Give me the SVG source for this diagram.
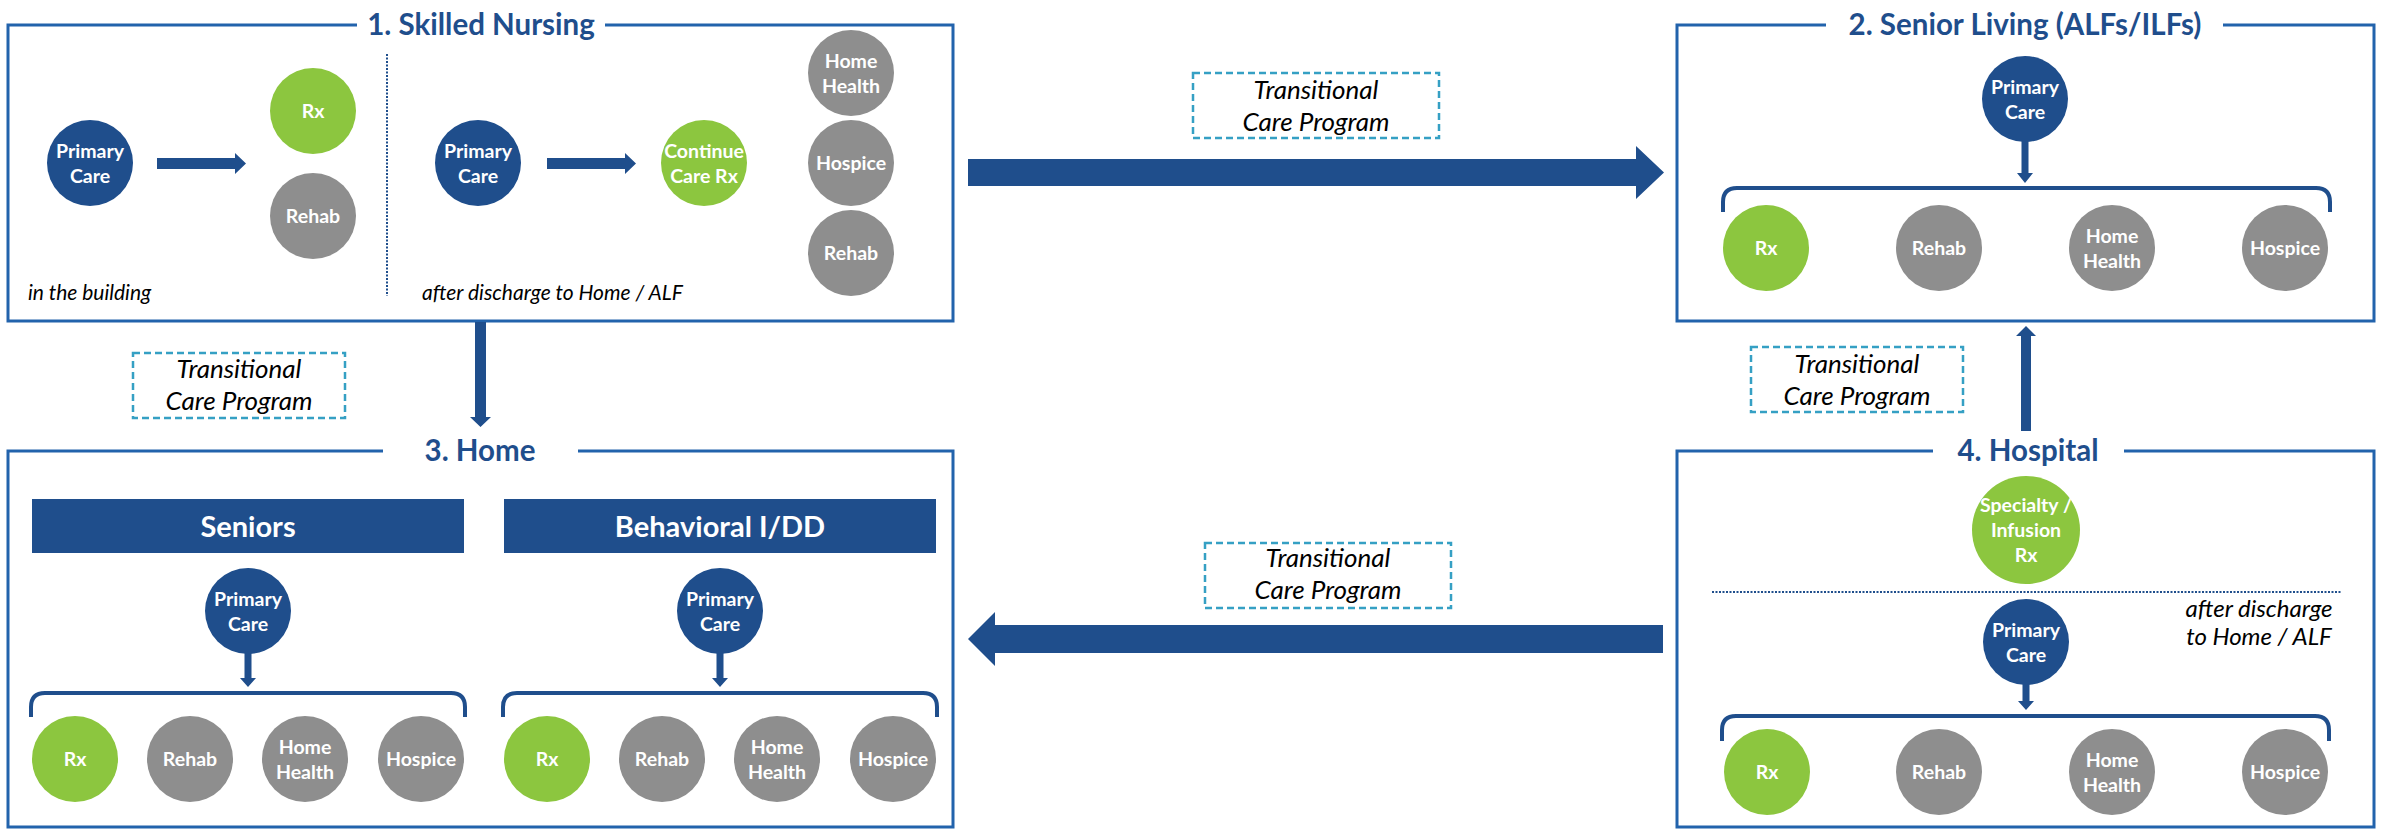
<svg xmlns="http://www.w3.org/2000/svg" width="2381" height="829" viewBox="0 0 2381 829">
  <style>
    .frame { fill: none; stroke: #2263AC; stroke-width: 3; }
    .title { font-family: Lato, "Liberation Sans", sans-serif; font-weight: 700; font-size: 29.5px; fill: #1F4E8C; text-anchor: middle; }
    .navy { fill: #1F4E8C; }
    .green { fill: #8CC63F; }
    .gray { fill: #8E8E8E; }
    .lbl { font-family: Lato, "Liberation Sans", sans-serif; font-weight: 700; font-size: 19.5px; fill: #FFFFFF; text-anchor: middle; }
    .bar { fill: #1F4E8C; }
    .barlbl { font-family: Lato, "Liberation Sans", sans-serif; font-weight: 700; font-size: 29px; fill: #FFFFFF; text-anchor: middle; }
    .note { font-family: Lato, "Liberation Sans", sans-serif; font-style: italic; font-size: 21px; fill: #000000; }
    .note-lg { font-family: Lato, "Liberation Sans", sans-serif; font-style: italic; font-size: 24px; fill: #000000; text-anchor: middle; }
    .tcp { fill: #FFFFFF; stroke: #35A0C4; stroke-width: 2.5; stroke-dasharray: 7 4; }
    .tcplbl { font-family: Lato, "Liberation Sans", sans-serif; font-style: italic; font-size: 26px; fill: #000000; text-anchor: middle; }
    .dots { fill: none; stroke: #1F4E8C; stroke-width: 2; stroke-dasharray: 2 1.5; }
    .brace { fill: none; stroke: #1F4E8C; stroke-width: 4; }
    .arrow { fill: #1F4E8C; }
  </style>

  <!-- 1. Skilled Nursing -->
  <g id="skilled-nursing">
    <path class="frame" d="M357,25 H8 V321 H953 V25 H605"/>
    <text class="title" x="481" y="35">1. Skilled Nursing</text>
    <line class="dots" x1="387" y1="54" x2="387" y2="296"/>
    <g id="sn-primary-care"><circle class="navy" cx="90" cy="163" r="43"/><text class="lbl" x="90" y="158">Primary</text><text class="lbl" x="90" y="183">Care</text></g>
    <g id="sn-rx"><circle class="green" cx="313" cy="111" r="43"/><text class="lbl" x="313" y="118">Rx</text></g>
    <g id="sn-rehab"><circle class="gray" cx="313" cy="216" r="43"/><text class="lbl" x="313" y="223">Rehab</text></g>
    <g id="sn-primary-care-2"><circle class="navy" cx="478" cy="163" r="43"/><text class="lbl" x="478" y="158">Primary</text><text class="lbl" x="478" y="183">Care</text></g>
    <g id="sn-continue-rx"><circle class="green" cx="704" cy="163" r="43"/><text class="lbl" x="704" y="158">Continue</text><text class="lbl" x="704" y="183">Care Rx</text></g>
    <g id="sn-home-health"><circle class="gray" cx="851" cy="73" r="43"/><text class="lbl" x="851" y="68">Home</text><text class="lbl" x="851" y="93">Health</text></g>
    <g id="sn-hospice"><circle class="gray" cx="851" cy="163" r="43"/><text class="lbl" x="851" y="170">Hospice</text></g>
    <g id="sn-rehab-2"><circle class="gray" cx="851" cy="253" r="43"/><text class="lbl" x="851" y="260">Rehab</text></g>
    <text class="note" x="28" y="300">in the building</text>
    <text class="note" x="422" y="300">after discharge to Home / ALF</text>
  </g>

  <!-- 2. Senior Living -->
  <g id="senior-living">
    <path class="frame" d="M1826,25 H1677 V321 H2374 V25 H2223"/>
    <text class="title" x="2025" y="35">2. Senior Living (ALFs/ILFs)</text>
    <g id="sl-primary-care"><circle class="navy" cx="2025" cy="99" r="43"/><text class="lbl" x="2025" y="94">Primary</text><text class="lbl" x="2025" y="119">Care</text></g>
    <path class="brace" d="M1723,212 V202 Q1723,188 1737,188 H2316 Q2330,188 2330,202 V212"/>
    <g id="sl-rx"><circle class="green" cx="1766" cy="248" r="43"/><text class="lbl" x="1766" y="255">Rx</text></g>
    <g id="sl-rehab"><circle class="gray" cx="1939" cy="248" r="43"/><text class="lbl" x="1939" y="255">Rehab</text></g>
    <g id="sl-home-health"><circle class="gray" cx="2112" cy="248" r="43"/><text class="lbl" x="2112" y="243">Home</text><text class="lbl" x="2112" y="268">Health</text></g>
    <g id="sl-hospice"><circle class="gray" cx="2285" cy="248" r="43"/><text class="lbl" x="2285" y="255">Hospice</text></g>
  </g>

  <!-- 3. Home -->
  <g id="home">
    <path class="frame" d="M383,451 H8 V827 H953 V451 H578"/>
    <text class="title" x="480" y="461">3. Home</text>
    <rect class="bar" x="32" y="499" width="432" height="54"/>
    <text class="barlbl" x="248" y="537">Seniors</text>
    <rect class="bar" x="504" y="499" width="432" height="54"/>
    <text class="barlbl" x="720" y="537">Behavioral I/DD</text>

    <g id="home-sr-primary-care"><circle class="navy" cx="248" cy="611" r="43"/><text class="lbl" x="248" y="606">Primary</text><text class="lbl" x="248" y="631">Care</text></g>
    <path class="brace" d="M31,717 V707 Q31,693 45,693 H451 Q465,693 465,707 V717"/>
    <g id="home-sr-rx"><circle class="green" cx="75" cy="759" r="43"/><text class="lbl" x="75" y="766">Rx</text></g>
    <g id="home-sr-rehab"><circle class="gray" cx="190" cy="759" r="43"/><text class="lbl" x="190" y="766">Rehab</text></g>
    <g id="home-sr-home-health"><circle class="gray" cx="305" cy="759" r="43"/><text class="lbl" x="305" y="754">Home</text><text class="lbl" x="305" y="779">Health</text></g>
    <g id="home-sr-hospice"><circle class="gray" cx="421" cy="759" r="43"/><text class="lbl" x="421" y="766">Hospice</text></g>

    <g id="home-bh-primary-care"><circle class="navy" cx="720" cy="611" r="43"/><text class="lbl" x="720" y="606">Primary</text><text class="lbl" x="720" y="631">Care</text></g>
    <path class="brace" d="M503,717 V707 Q503,693 517,693 H923 Q937,693 937,707 V717"/>
    <g id="home-bh-rx"><circle class="green" cx="547" cy="759" r="43"/><text class="lbl" x="547" y="766">Rx</text></g>
    <g id="home-bh-rehab"><circle class="gray" cx="662" cy="759" r="43"/><text class="lbl" x="662" y="766">Rehab</text></g>
    <g id="home-bh-home-health"><circle class="gray" cx="777" cy="759" r="43"/><text class="lbl" x="777" y="754">Home</text><text class="lbl" x="777" y="779">Health</text></g>
    <g id="home-bh-hospice"><circle class="gray" cx="893" cy="759" r="43"/><text class="lbl" x="893" y="766">Hospice</text></g>
  </g>

  <!-- 4. Hospital -->
  <g id="hospital">
    <path class="frame" d="M1933,451 H1677 V827 H2374 V451 H2124"/>
    <text class="title" x="2028" y="461">4. Hospital</text>
    <g id="hosp-specialty-rx"><circle class="green" cx="2026" cy="530" r="54"/><text class="lbl" x="2026" y="512">Specialty /</text><text class="lbl" x="2026" y="537">Infusion</text><text class="lbl" x="2026" y="562">Rx</text></g>
    <line class="dots" x1="1712" y1="592" x2="2341" y2="592"/>
    <text class="note-lg" x="2259" y="617">after discharge</text>
    <text class="note-lg" x="2259" y="645">to Home / ALF</text>
    <g id="hosp-primary-care"><circle class="navy" cx="2026" cy="642" r="43"/><text class="lbl" x="2026" y="637">Primary</text><text class="lbl" x="2026" y="662">Care</text></g>
    <path class="brace" d="M1722,741 V730 Q1722,716 1736,716 H2315 Q2329,716 2329,730 V741"/>
    <g id="hosp-rx"><circle class="green" cx="1767" cy="772" r="43"/><text class="lbl" x="1767" y="779">Rx</text></g>
    <g id="hosp-rehab"><circle class="gray" cx="1939" cy="772" r="43"/><text class="lbl" x="1939" y="779">Rehab</text></g>
    <g id="hosp-home-health"><circle class="gray" cx="2112" cy="772" r="43"/><text class="lbl" x="2112" y="767">Home</text><text class="lbl" x="2112" y="792">Health</text></g>
    <g id="hosp-hospice"><circle class="gray" cx="2285" cy="772" r="43"/><text class="lbl" x="2285" y="779">Hospice</text></g>
  </g>

  <!-- Transitional Care Program labels -->
  <g id="tcp-labels">
    <rect class="tcp" x="1193" y="73" width="246" height="65"/>
    <text class="tcplbl" x="1316" y="99">Transitional</text><text class="tcplbl" x="1316" y="131">Care Program</text>
    <rect class="tcp" x="133" y="353" width="212" height="65"/>
    <text class="tcplbl" x="239" y="378">Transitional</text><text class="tcplbl" x="239" y="410">Care Program</text>
    <rect class="tcp" x="1751" y="347" width="212" height="65"/>
    <text class="tcplbl" x="1857" y="373">Transitional</text><text class="tcplbl" x="1857" y="405">Care Program</text>
    <rect class="tcp" x="1205" y="543" width="246" height="65"/>
    <text class="tcplbl" x="1328" y="567">Transitional</text><text class="tcplbl" x="1328" y="599">Care Program</text>
  </g>

  <!-- Connectors -->
  <g id="connectors">
    <polygon class="arrow" points="157,158 235,158 235,153 246,163.5 235,174 235,169 157,169"/>
    <polygon class="arrow" points="547,158 625,158 625,153 636,163.5 625,174 625,169 547,169"/>
    <polygon class="arrow" points="968,159 1636,159 1636,146 1664,172.5 1636,199 1636,186 968,186"/>
    <polygon class="arrow" points="1663,625 995,625 995,612 968,639 995,666 995,653 1663,653"/>
    <polygon class="arrow" points="475,322 486,322 486,417 491,417 480.5,427 470,417 475,417"/>
    <polygon class="arrow" points="2021,431 2031,431 2031,336 2036,336 2026,326 2016,336 2021,336"/>
    <polygon class="arrow" points="2021.5,141 2028.5,141 2028.5,173 2033,173 2025,183 2017,173 2021.5,173"/>
    <polygon class="arrow" points="244.5,653 251.5,653 251.5,678 256,678 248,687 240,678 244.5,678"/>
    <polygon class="arrow" points="716.5,653 723.5,653 723.5,678 728,678 720,687 712,678 716.5,678"/>
    <polygon class="arrow" points="2022.5,684 2029.5,684 2029.5,701 2034,701 2026,710 2018,701 2022.5,701"/>
  </g>
</svg>
